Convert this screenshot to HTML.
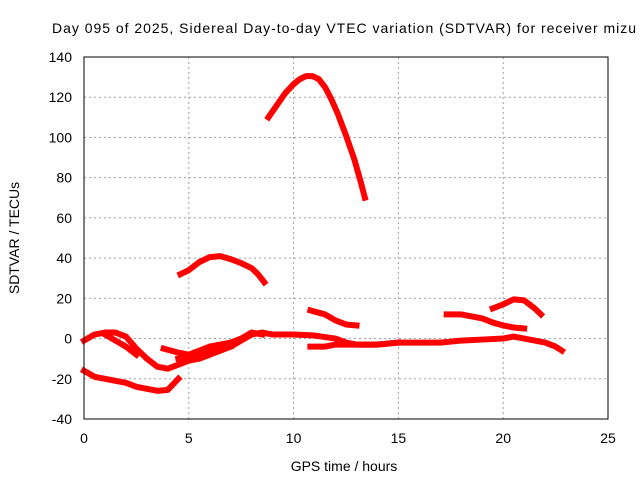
<!DOCTYPE html>
<html><head><meta charset="utf-8"><style>
body{margin:0;background:#fff;}
svg{display:block;font-family:"Liberation Sans",sans-serif;}
</style></head><body>
<svg id="chart" width="640" height="480" viewBox="0 0 640 480" xmlns="http://www.w3.org/2000/svg">
<rect width="640" height="480" fill="#fff"/>
<text x="52" y="33" font-size="14" textLength="584" lengthAdjust="spacing">Day 095 of 2025, Sidereal Day-to-day VTEC variation (SDTVAR) for receiver mizu</text>
<g id="grid"></g><g id="ticks"></g><g id="series"></g>
<rect x="84" y="57" width="524" height="362" fill="none" stroke="#000" stroke-width="1"/>
<text x="344" y="471" font-size="14" text-anchor="middle">GPS time / hours</text>
<text transform="translate(19,238) rotate(-90)" font-size="14" text-anchor="middle">SDTVAR / TECUs</text>
</svg>
<script>
const xTicks=[0,5,10,15,20,25];
const yTicks=[-40,-20,0,20,40,60,80,100,120,140];
const s1x=[8.8,9.2,9.6,10,10.3,10.6,10.9,11.2,11.5,11.8,12.1,12.5,12.9,13.2,13.4];
const s1y=[110,116,122,126.5,129,130.5,130.5,129,125,119,112,101,89,78,70];
const s2x=[4.6,5,5.5,6,6.5,7,7.5,8,8.3,8.6];
const s2y=[32,34,38,40.5,41,39.5,37.5,35,32,28];
const s3x=[0,0.5,1,1.5,2,2.5,3,3.5,4,4.5];
const s3y=[-16,-19,-20,-21,-22,-24,-25,-26,-25.5,-20];
const s4x=[0,0.5,1,1.5,2,2.5,3,3.5,4,4.5,5,5.5,6,6.5,7,7.5,8,8.5,9,10,11,12,12.5,13,14,15,16,17,18,19,20,20.5,21,21.5,22,22.5,22.8];
const s4y=[-1,2,3,3,1,-5,-10,-14,-15,-13,-11,-10,-8,-6,-4,-1,2,3,2,2,1.5,0,-2,-3,-3,-2,-2,-2,-1,-0.5,0,1,0,-1,-2,-4,-6];
const s5x=[1,1.5,2,2.5];
const s5y=[2,-1,-4,-8];
const s6x=[3.8,4.5,5,5.5,6,6.5,7,7.5,8,8.5];
const s6y=[-5,-7,-8,-6,-4,-3,-2,0,3,2];
const s7x=[4.5,5,5.5,6,6.5,7];
const s7y=[-10,-9,-8,-7,-6,-4];
const s8x=[10.8,11.5,12,12.5,13];
const s8y=[14,12,9,7,6.5];
const s9x=[10.8,11.5,12,13,14,15];
const s9y=[-4,-4,-3,-3,-3,-2];
const s10x=[17.3,18,18.5,19,19.5,20,20.5,21];
const s10y=[12,12,11,10,8,6.5,5.5,5];
const s11x=[19.5,20,20.5,21,21.5,21.8];
const s11y=[15,17,19.5,19,15,12];
const allSeries=[[s1x,s1y],[s2x,s2y],[s3x,s3y],[s4x,s4y],[s5x,s5y],[s6x,s6y],[s7x,s7y],[s8x,s8y],[s9x,s9y],[s10x,s10y],[s11x,s11y]];
const NS="http://www.w3.org/2000/svg";
const X=v=>84+v/25*524, Y=v=>419-(v+40)/180*362;
const g=document.getElementById('grid'),t=document.getElementById('ticks'),s=document.getElementById('series');
function mk(tag,attrs,parent){const e=document.createElementNS(NS,tag);for(const k in attrs)e.setAttribute(k,attrs[k]);parent.appendChild(e);return e;}
xTicks.forEach(v=>{
 const l=mk('line',{x1:X(v),x2:X(v),y1:57,y2:419,stroke:'#a0a0a0','stroke-dasharray':'2,3'},g);
 
 
 const tx=mk('text',{x:X(v),y:443,'font-size':14,'text-anchor':'middle'},t);tx.textContent=v;
 
 
});
yTicks.forEach(v=>{
 const l=mk('line',{x1:84,x2:608,y1:Y(v),y2:Y(v),stroke:'#a0a0a0','stroke-dasharray':'2,3'},g);
 
 
 const tx=mk('text',{x:72,y:Y(v)+5,'font-size':14,'text-anchor':'end'},t);tx.textContent=v;
 
 
});
allSeries.forEach(([xs,ys],i)=>{
 const p=mk('polyline',{points:xs.map((x,j)=>X(x)+','+Y(ys[j])).join(' '),fill:'none',stroke:'#ff0000','stroke-width':6,'stroke-linejoin':'round','stroke-linecap':'square'},s);
 
 
});
</script>
</body></html>
